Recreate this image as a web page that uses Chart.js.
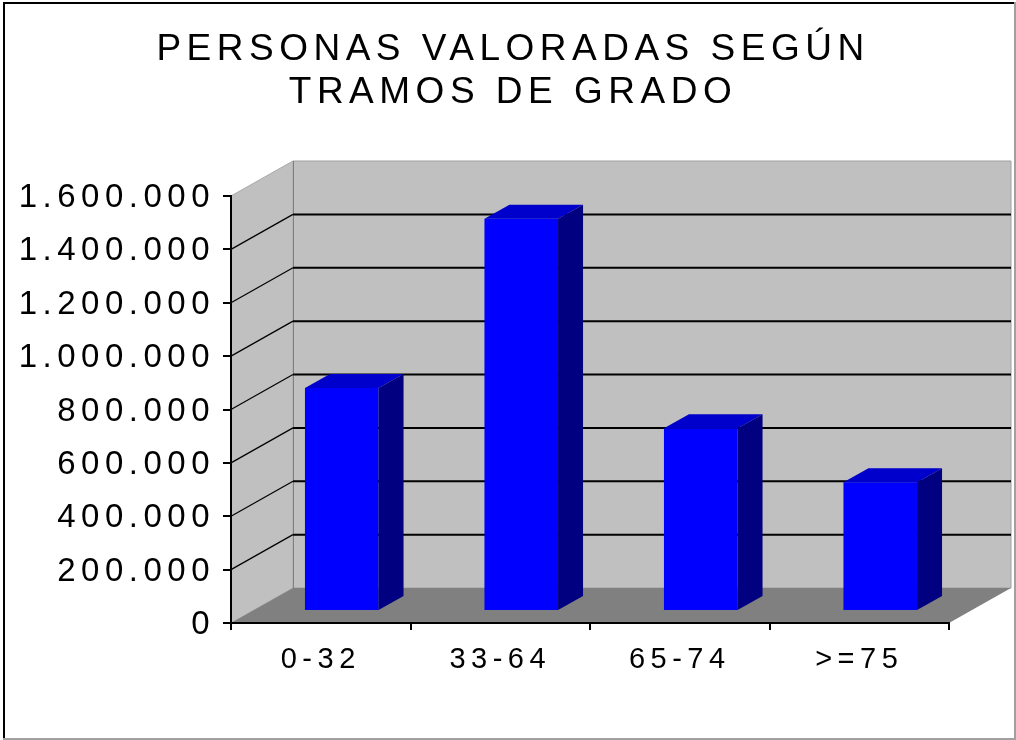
<!DOCTYPE html>
<html>
<head>
<meta charset="utf-8">
<script src="https://cdn.jsdelivr.net/npm/chart.js@4.4.1/dist/chart.umd.min.js"></script>
<style>
  html, body { margin: 0; padding: 0; background: #fff; overflow: hidden; }
  #wrap { position: relative; width: 1016px; height: 740px; }
</style>
</head>
<body>
<div id="wrap"><canvas id="chart" width="1016" height="740"></canvas></div>
<script>
const titleLines = ['PERSONAS VALORADAS SEGÚN', 'TRAMOS DE GRADO'];
const categories = ['0-32', '33-64', '65-74', '>=75'];
const personas = [836000, 1470000, 685000, 482000];
const yMin = 0, yMax = 1600000, yStep = 200000;

const FONT = '"Liberation Sans", Arial, sans-serif';
const SPACING = '5.5px';
// 3D look: back wall offset, bar front offset, bar depth
const DX = 62, DY = -35;
const BAR_X = 21, BAR_Y = -12;
const BAR_DX = 25, BAR_DY = -14;

function fmtEs(v) { return String(v).replace(/\B(?=(\d{3})+(?!\d))/g, '.'); }

function poly(ctx, pts, fill, stroke) {
  ctx.beginPath();
  ctx.moveTo(pts[0][0], pts[0][1]);
  for (let i = 1; i < pts.length; i++) ctx.lineTo(pts[i][0], pts[i][1]);
  ctx.closePath();
  if (fill) { ctx.fillStyle = fill; ctx.fill(); }
  if (stroke) { ctx.strokeStyle = stroke; ctx.lineWidth = 1; ctx.stroke(); }
}

const scene3d = {
  id: 'scene3d',
  beforeDraw(chart) {
    const ctx = chart.ctx, a = chart.chartArea, ys = chart.scales.y;
    ctx.letterSpacing = SPACING;
    const L = a.left, R = a.right;
    const T = ys.getPixelForValue(yMax), B = ys.getPixelForValue(yMin);
    ctx.save();
    // back wall, left wall, floor
    poly(ctx, [[L + DX, T + DY], [R + DX, T + DY], [R + DX, B + DY], [L + DX, B + DY]], '#c0c0c0', '#a0a0a0');
    poly(ctx, [[L, T], [L + DX, T + DY], [L + DX, B + DY], [L, B]], '#c0c0c0', '#a8a8a8');
    poly(ctx, [[L, B], [L + DX, B + DY], [R + DX, B + DY], [R, B]], '#808080', null);
    // corner edge
    ctx.strokeStyle = '#808080'; ctx.lineWidth = 1;
    ctx.beginPath(); ctx.moveTo(L + DX + 0.5, T + DY); ctx.lineTo(L + DX + 0.5, B + DY); ctx.stroke();
    // gridlines on the walls
    ys.ticks.forEach(t => {
      if (t.value <= yMin || t.value >= yMax) return;
      const p = ys.getPixelForValue(t.value);
      ctx.strokeStyle = '#000';
      ctx.lineWidth = 2;
      ctx.beginPath(); ctx.moveTo(L + DX, p + DY); ctx.lineTo(R + DX, p + DY); ctx.stroke();
      ctx.lineWidth = 1.2;
      ctx.beginPath(); ctx.moveTo(L, p); ctx.lineTo(L + DX, p + DY); ctx.stroke();
    });
    ctx.restore();
  },
  beforeDatasetDraw(chart) {
    chart.ctx.save();
    chart.ctx.translate(BAR_X, BAR_Y);
  },
  afterDatasetDraw(chart) {
    chart.ctx.restore();
  },
  afterDatasetsDraw(chart) {
    const ctx = chart.ctx;
    const meta = chart.getDatasetMeta(0);
    ctx.save();
    meta.data.forEach(bar => {
      const { x, y, base, width } = bar.getProps(['x', 'y', 'base', 'width'], true);
      const x0 = x - width / 2 + BAR_X, x1 = x + width / 2 + BAR_X;
      const top = y + BAR_Y, bot = base + BAR_Y;
      poly(ctx, [[x0, top], [x1, top], [x1 + BAR_DX, top + BAR_DY], [x0 + BAR_DX, top + BAR_DY]], '#0000cc', null);
      poly(ctx, [[x1, top], [x1 + BAR_DX, top + BAR_DY], [x1 + BAR_DX, bot + BAR_DY], [x1, bot]], '#000080', null);
    });
    ctx.restore();
  },
  afterDraw(chart) {
    const ctx = chart.ctx;
    ctx.save();
    ctx.font = '37px ' + FONT;
    ctx.letterSpacing = SPACING;
    ctx.fillStyle = '#000';
    ctx.textAlign = 'center';
    ctx.textBaseline = 'middle';
    titleLines.forEach((line, i) => ctx.fillText(line, 513, 50 + i * 43));
    // outer frame
    ctx.fillStyle = '#000';
    ctx.fillRect(3, 2, 2, 738);
    ctx.fillRect(3, 2, 1013, 2);
    ctx.fillStyle = '#a0a0a0';
    ctx.fillRect(1014, 2, 2, 738);
    ctx.fillRect(3, 738, 1013, 2);
    ctx.restore();
  }
};

new Chart(document.getElementById('chart'), {
  type: 'bar',
  data: {
    labels: categories,
    datasets: [{
      data: personas,
      backgroundColor: '#0000ff',
      borderWidth: 0,
      categoryPercentage: 1,
      barPercentage: 0.41,
      clip: false
    }]
  },
  options: {
    responsive: false,
    animation: false,
    layout: { padding: { top: 196, right: 67, bottom: 0, left: 0 } },
    plugins: { legend: { display: false }, title: { display: false }, tooltip: { enabled: false } },
    scales: {
      x: {
        ticks: { color: '#000', font: { family: FONT, size: 29 }, padding: 13, maxRotation: 0, autoSkip: false },
        grid: { offset: true, drawOnChartArea: false, tickLength: 7, color: '#000', lineWidth: 2 },
        border: { color: '#000', width: 2 },
        afterFit(s) { s.height = 117; }
      },
      y: {
        min: yMin,
        max: yMax,
        ticks: { stepSize: yStep, color: '#000', font: { family: FONT, size: 33 }, padding: 8, labelOffset: 2, callback: v => fmtEs(v) },
        grid: { drawOnChartArea: false, tickLength: 8, color: '#000', lineWidth: 2 },
        border: { color: '#000', width: 2 },
        afterFit(s) { s.width = 231; }
      }
    }
  },
  plugins: [scene3d]
});
</script>
</body>
</html>
